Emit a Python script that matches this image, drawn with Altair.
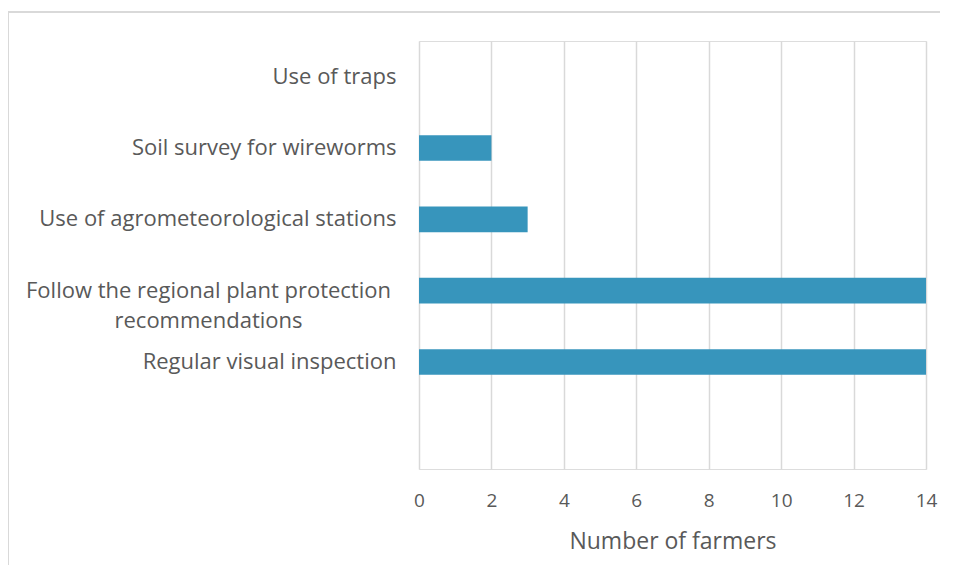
import altair as alt
import pandas as pd

categories = [
    "Use of traps",
    "Soil survey for wireworms",
    "Use of agrometeorological stations",
    "Follow the regional plant protection|recommendations",
    "Regular visual inspection",
    " ",
]
values = [0, 2, 3, 14, 14, None]
x_ticks = [0, 2, 4, 6, 8, 10, 12, 14]

df = pd.DataFrame({"category": categories, "value": values})

FONT = "Open Sans"
GREY = "#595959"
WRAPPED = "Follow the regional plant protection|recommendations"

bars = alt.Chart(df).mark_bar(color="#3795BC").encode(
    x=alt.X(
        "value:Q",
        scale=alt.Scale(domain=[0, 14], nice=False),
        axis=alt.Axis(
            values=x_ticks,
            title="Number of farmers",
            grid=True,
            gridColor="#D9D9D9",
            gridWidth=1.5,
            domain=False,
            ticks=False,
            labelFlush=False,
            labelFont=FONT,
            labelFontSize=19,
            labelColor=GREY,
            labelPadding=22,
            titleFont=FONT,
            titleFontSize=23,
            titleFontWeight="normal",
            titleColor=GREY,
            titlePadding=20,
        ),
    ),
    y=alt.Y(
        "category:N",
        sort=categories,
        scale=alt.Scale(paddingInner=0.64, paddingOuter=0.32),
        axis=alt.Axis(
            title=None,
            domain=False,
            ticks=False,
            grid=False,
            labelFont=FONT,
            labelFontSize=22,
            labelColor=GREY,
            labelAlign={"condition": {"test": f"datum.value == '{WRAPPED}'", "value": "center"}, "value": "right"},
            labelPadding={"condition": {"test": f"datum.value == '{WRAPPED}'", "value": 211}, "value": 23},
            labelLimit=500,
            labelLineHeight=30,
            labelExpr="split(datum.label, '|')",
        ),
    ),
)

frame_top = alt.Chart(df).mark_rule(color="#D9D9D9", strokeWidth=1.5).encode(
    x=alt.value(-411),
    x2=alt.value(600),
    y=alt.value(-29),
)
frame_left = alt.Chart(df).mark_rule(color="#D9D9D9", strokeWidth=1.5).encode(
    x=alt.value(-411),
    y=alt.value(-29),
    y2=alt.value(600),
)

chart = alt.layer(frame_top, frame_left, bars).properties(
    width=507,
    height=428,
    autosize=alt.AutoSizeParams(type="none"),
    padding={"left": 411, "top": 33, "right": 14, "bottom": 96},
).configure_view(stroke=None).configure(background="white")

chart.save("out.html", embed_options={"renderer": "svg", "actions": False})
